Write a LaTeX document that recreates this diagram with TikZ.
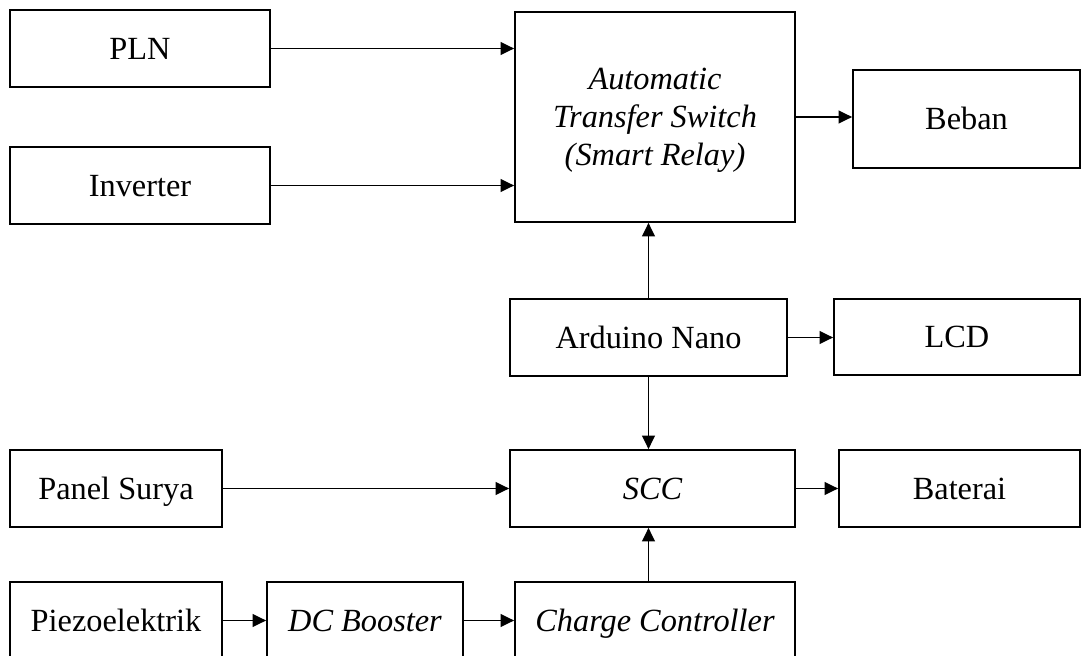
\documentclass[tikz,border=0pt]{standalone}
\usepackage{fontspec}
\setmainfont{Liberation Serif}
\usetikzlibrary{arrows.meta, positioning}

\begin{document}
\begin{tikzpicture}[x=0.025cm, y=-0.025cm,
    blok/.style={draw, line width=1.2pt, align=center, inner sep=2pt,
        text height=20pt, text depth=5pt, font=\fontsize{23}{23}\selectfont},
    blokbesar/.style={draw, line width=1.2pt, align=center, inner sep=2pt,
        text depth=0pt, font=\fontsize{23}{27}\selectfont\itshape},
    panah/.style={-{Triangle[length=0.34cm, width=0.32cm]}, line width=1.2pt}]
                \useasboundingbox (0,0) rectangle (1087,656);
                \clip (0,0) rectangle (1087,656);
                % Sumber dan ATS
                \node[blok, minimum width=6.5cm, minimum height=1.925cm] (pln) at (140,48.5) {PLN};
                \node[blok, minimum width=6.5cm, minimum height=1.925cm] (inv) at (140,185.5) {Inverter};
                \node[blokbesar, minimum width=7cm, minimum height=5.25cm] (ats) at (655,117) {Automatic\\ Transfer Switch\\ (Smart Relay)};
                \node[blok, minimum width=5.675cm, minimum height=2.45cm] (beban) at (966.5,119) {Beban};
                \draw[panah] (pln.east) -- (pln.east -| ats.west);
                \draw[panah] (inv.east) -- (inv.east -| ats.west);
                \draw[panah] (ats.east) -- (ats.east -| beban.west);
                
                % Kontrol
                \node[blok, minimum width=6.925cm, minimum height=1.925cm] (nano) at (648.5,337.5) {Arduino Nano};
                \node[blok, minimum width=6.15cm, minimum height=1.9cm] (lcd) at (957,337) {LCD};
                \draw[panah] (nano.north) -- (nano.north |- ats.south);
                \draw[panah] (nano.east) -- (nano.east -| lcd.west);
                
                % Pengisian baterai
                \node[blok, minimum width=5.3cm, minimum height=1.925cm] (panel) at (116,488.5) {Panel Surya};
                \node[blok, minimum width=7.125cm, minimum height=1.925cm] (scc) at (652.5,488.5) {\itshape SCC};
                \node[blok, minimum width=6.025cm, minimum height=1.925cm] (bat) at (959.5,488.5) {Baterai};
                \draw[panah] (nano.south) -- (nano.south |- scc.north);
                \draw[panah] (panel.east) -- (panel.east -| scc.west);
                \draw[panah] (scc.east) -- (scc.east -| bat.west);
                
                \node[blok, minimum width=5.3cm, minimum height=1.925cm] (piezo) at (116,620.5) {Piezoelektrik};
                \node[blok, minimum width=4.9cm, minimum height=1.925cm] (boost) at (365,620.5) {\itshape DC Booster};
                \node[blok, minimum width=7cm, minimum height=1.925cm] (cc) at (655,620.5) {\itshape Charge Controller};
                \draw[panah] (piezo.east) -- (boost.west);
                \draw[panah] (boost.east) -- (cc.west);
                \draw[panah] (nano.south |- cc.north) -- (nano.south |- scc.south);
            \end{tikzpicture}
\end{document}
